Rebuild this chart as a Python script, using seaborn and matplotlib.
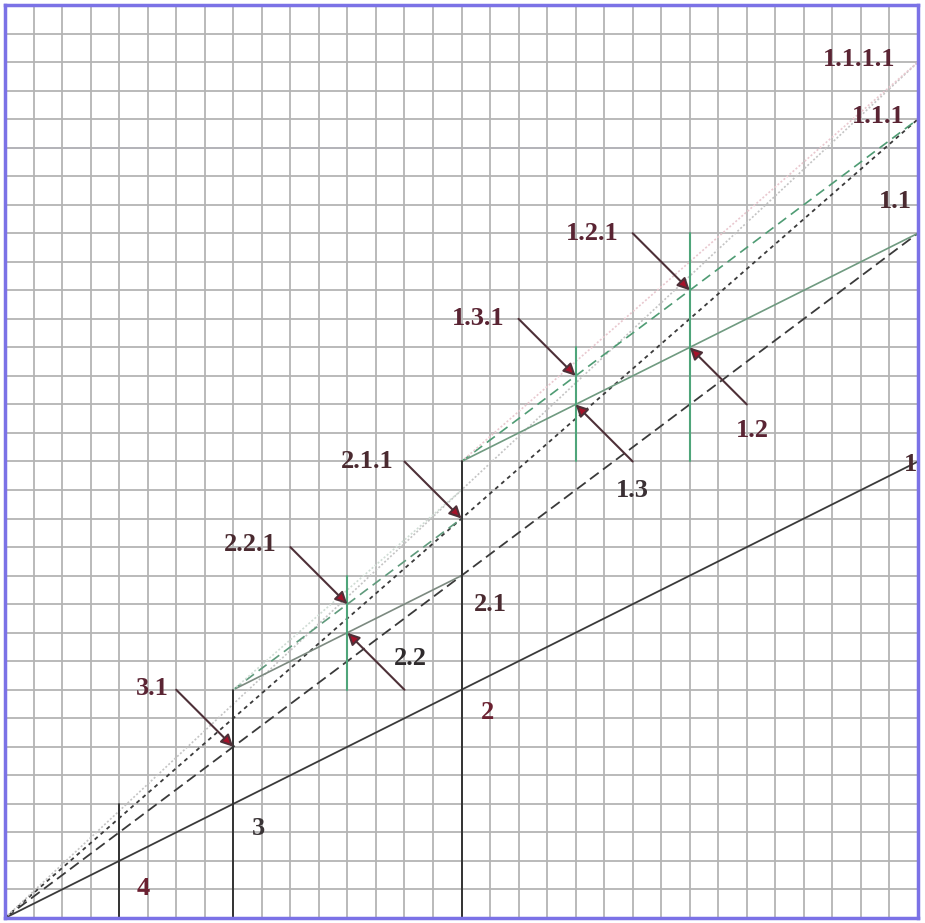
import matplotlib
matplotlib.use("Agg")
import matplotlib.pyplot as plt
import seaborn as sns

# grid size (cells)
grid_n = 32

# main lines from the origin: end points on the right edge
main_end_x = [32, 32, 32, 32]
main_end_y = [16, 24, 28, 30]

# black vertical stage lines
stage_x = [4, 8, 16]
stage_top = [4, 8, 16]

# branches leaving the top of stage 3 (8, 8) and stage 2 (16, 16)
branch3_start = (8, 8)
branch3_end_x = [16, 16, 16]
branch3_end_y = [12, 14, 15]
branch2_start = (16, 16)
branch2_end_x = [32, 32, 32]
branch2_end_y = [24, 28, 30]

# green vertical marks
green_x = [12, 20, 24]
green_bottom = [8, 16, 16]
green_top = [12, 20, 24]

# arrows: label, tip point, tail point
arrow_labels = ["1.2.1", "1.3.1", "2.1.1", "2.2.1", "3.1", "1.3", "1.2", "2.2"]
arrow_tip_x = [24, 20, 16, 12, 8, 20, 24, 12]
arrow_tip_y = [22, 19, 14, 11, 6, 18, 20, 10]
arrow_tail_x = [22, 18, 14, 10, 6, 22, 26, 14]
arrow_tail_y = [24, 21, 16, 13, 8, 16, 18, 8]

# text labels and their positions
text_labels = ["1.2.1", "1.3.1", "2.1.1", "2.2.1", "3.1", "1.3", "1.2", "2.2",
               "1.1.1.1", "1.1.1", "1.1", "1", "2.1", "2", "3", "4"]
text_x = [20.6, 16.6, 12.7, 8.6, 5.15, 22.0, 26.2, 14.2,
          29.95, 30.6, 31.2, 31.75, 17.0, 16.9, 8.9, 4.85]
text_y = [24.0, 21.0, 16.0, 13.1, 8.05, 15.0, 17.1, 9.1,
          30.1, 28.1, 25.1, 15.9, 11.0, 7.2, 3.15, 1.05]
text_colors = ["#5a2433", "#5a2433", "#4a2a30", "#4a2a30", "#5a2433", "#3a3034", "#5a2433", "#2e2a2c",
               "#5a2433", "#5a2433", "#4a2a30", "#4a2a30", "#4a2a30", "#6a2030", "#3a3436", "#6a2030"]

sns.set_theme(style="white")
plt.rcParams['font.family'] = ['Liberation Serif', 'DejaVu Serif']

fig = plt.figure(figsize=(9.25, 9.23), dpi=100)
ax = fig.add_axes([5 / 925, 5 / 923, 913 / 925, 913 / 923])

ax.set_xlim(0, grid_n)
ax.set_ylim(0, grid_n)
ax.set_xticks(range(grid_n + 1))
ax.set_yticks(range(grid_n + 1))
ax.tick_params(length=0, labelbottom=False, labelleft=False)
ax.grid(True, color="#b4b4b4", linewidth=1.3)
ax.set_axisbelow(True)
ax.axhline(27, color="#b3aeee", linewidth=1.3, zorder=0.5)
for sp in ax.spines.values():
    sp.set_color("#7b72e6")
    sp.set_linewidth(2.5)
    sp.set_visible(True)

# lines from the origin
main_styles = [
    dict(color="#3a3a3a", linestyle="-", linewidth=1.3),
    dict(color="#3a3a3a", linestyle=(0, (6, 3)), linewidth=1.3),
    dict(color="#3a3a3a", linestyle=(0, (2.2, 2.2)), linewidth=1.3),
    dict(color="#c4c4c4", linestyle=(0, (1.2, 1.2)), linewidth=1.2),
]
for ex, ey, st in zip(main_end_x, main_end_y, main_styles):
    sns.lineplot(x=[0, ex], y=[0, ey], ax=ax, sort=False, estimator=None, **st)

# branch lines
branch_styles = [
    dict(color="#6f9a80", linestyle="-", linewidth=1.2),
    dict(color="#4f9c74", linestyle=(0, (6, 3.5)), linewidth=1.2),
    dict(color="#e9c8cf", linestyle=(0, (1.2, 1.2)), linewidth=1.2),
]
branch3_styles = [
    dict(color="#7c8a80", linestyle="-", linewidth=1.2),
    dict(color="#5f9a7c", linestyle=(0, (6, 3.5)), linewidth=1.2),
    dict(color="#cfdcd4", linestyle=(0, (1.2, 1.2)), linewidth=1.2),
]
for ex, ey, st in zip(branch3_end_x, branch3_end_y, branch3_styles):
    sns.lineplot(x=[branch3_start[0], ex], y=[branch3_start[1], ey], ax=ax,
                 sort=False, estimator=None, **st)
for ex, ey, st in zip(branch2_end_x, branch2_end_y, branch_styles):
    sns.lineplot(x=[branch2_start[0], ex], y=[branch2_start[1], ey], ax=ax,
                 sort=False, estimator=None, **st)

# vertical stage lines
for sx, top in zip(stage_x, stage_top):
    sns.lineplot(x=[sx, sx], y=[0, top], ax=ax, sort=False, estimator=None,
                 color="#333333", linewidth=1.4)

# green marks
for gx, gb, gt in zip(green_x, green_bottom, green_top):
    sns.lineplot(x=[gx, gx], y=[gb, gt], ax=ax, sort=False, estimator=None,
                 color="#4fa57a", linewidth=1.5)

# arrows
for tx, ty, sx, sy in zip(arrow_tip_x, arrow_tip_y, arrow_tail_x, arrow_tail_y):
    ax.annotate("", xy=(tx, ty), xytext=(sx, sy),
                arrowprops=dict(arrowstyle="-|>", fc="#a5122a", ec="#4e3038",
                                lw=1.5, mutation_scale=18, shrinkA=0, shrinkB=0))

# text
for lab, x, y, c in zip(text_labels, text_x, text_y, text_colors):
    ax.text(x, y, lab, ha="center", va="center", fontsize=19, fontweight="bold",
            color=c, clip_on=False)

ax.set_xlabel("")
ax.set_ylabel("")
if ax.get_legend():
    ax.get_legend().remove()

fig.savefig("out.png", dpi=100, facecolor="white")
